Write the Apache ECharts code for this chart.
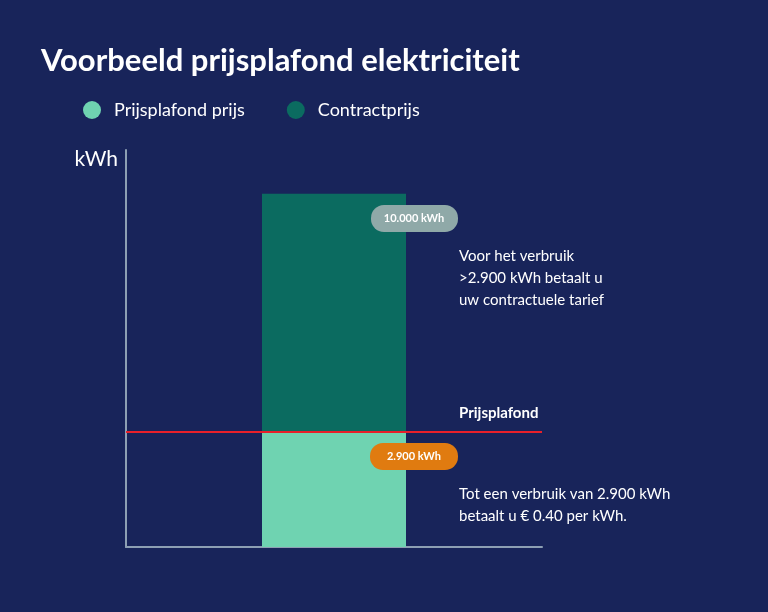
<!DOCTYPE html>
<html lang="nl">
<head>
<meta charset="UTF-8">
<title>Voorbeeld prijsplafond elektriciteit</title>
<script src="https://cdn.jsdelivr.net/npm/echarts@6/dist/echarts.min.js"></script>
<style>
  html, body { margin: 0; padding: 0; background: #18245a; }
  #chart { width: 768px; height: 612px; }
</style>
</head>
<body>
<div id="chart"></div>
<script>
// categorie en gestapelde segmenten (hoogte zoals getekend)
var categories = ['Verbruik'];
var plafondPrijs = [2900];
var contractPrijs = [6000];
var plafondGrens = 2900;
var labelPlafond = '2.900 kWh';
var labelTotaal = '10.000 kWh';

var font = 'Lato, "Open Sans", sans-serif';
var chart = echarts.init(document.getElementById('chart'));

var option = {
    backgroundColor: '#18245a',
    animation: false,
    title: {
        text: 'Voorbeeld prijsplafond elektriciteit',
        left: 36, top: 40,
        textStyle: { color: '#fff', fontSize: 31, fontWeight: 'bold', fontFamily: font }
    },
    legend: {
        left: 78, top: 96,
        itemWidth: 18, itemHeight: 18, itemGap: 42,
        icon: 'circle',
        textStyle: { color: '#fff', fontSize: 18, fontFamily: font, padding: [0, 0, 0, 8] },
        data: ['Prijsplafond prijs', 'Contractprijs']
    },
    grid: { left: 126, right: 226, top: 150, bottom: 65 },
    xAxis: {
        type: 'category', data: categories,
        axisLine: { lineStyle: { color: '#8d9fb3', width: 2 } },
        axisTick: { show: false }, axisLabel: { show: false }
    },
    yAxis: {
        type: 'value', min: 0, max: 10000,
        name: 'kWh', nameLocation: 'end', nameGap: -20,
        nameTextStyle: { color: '#fff', fontSize: 21, fontFamily: font, align: 'right', padding: [0, 8, 0, 0] },
        axisLine: { show: true, lineStyle: { color: '#8d9fb3', width: 2 } },
        axisTick: { show: false }, axisLabel: { show: false }, splitLine: { show: false }
    },
    series: [
        {
            name: 'Prijsplafond prijs', type: 'bar', stack: 'v', barWidth: 144,
            itemStyle: { color: '#6fd3b1' }, data: plafondPrijs,
            markLine: {
                symbol: 'none', silent: true,
                lineStyle: { color: '#e8202a', width: 2, type: 'solid' },
                label: { show: false },
                data: [{ yAxis: plafondGrens }]
            }
        },
        {
            name: 'Contractprijs', type: 'bar', stack: 'v', barWidth: 144,
            itemStyle: { color: '#0b6b60' }, data: contractPrijs
        }
    ],
    graphic: [
        { type: 'rect', z: 100, shape: { x: 371, y: 205, width: 87, height: 27, r: 13 }, style: { fill: '#8fa9a8' } },
        { type: 'text', z: 101, x: 414, y: 218, style: { text: labelTotaal, fill: '#fff', font: 'bold 11px ' + font, align: 'center', verticalAlign: 'middle' } },
        { type: 'rect', z: 100, shape: { x: 370, y: 443, width: 88, height: 27, r: 13 }, style: { fill: '#e07b10' } },
        { type: 'text', z: 101, x: 414, y: 456, style: { text: labelPlafond, fill: '#fff', font: 'bold 11px ' + font, align: 'center', verticalAlign: 'middle' } },
        { type: 'text', z: 100, x: 459, y: 406, style: { text: 'Prijsplafond', fill: '#fff', font: 'bold 15px ' + font } },
        { type: 'text', z: 100, x: 459, y: 245, style: { text: 'Voor het verbruik\n>2.900 kWh betaalt u\nuw contractuele tarief', fill: '#fff', font: '15px ' + font, lineHeight: 22 } },
        { type: 'text', z: 100, x: 459, y: 483, style: { text: 'Tot een verbruik van 2.900 kWh\nbetaalt u € 0.40 per kWh.', fill: '#fff', font: '15px ' + font, lineHeight: 22 } }
    ]
};
chart.setOption(option);
</script>
</body>
</html>
